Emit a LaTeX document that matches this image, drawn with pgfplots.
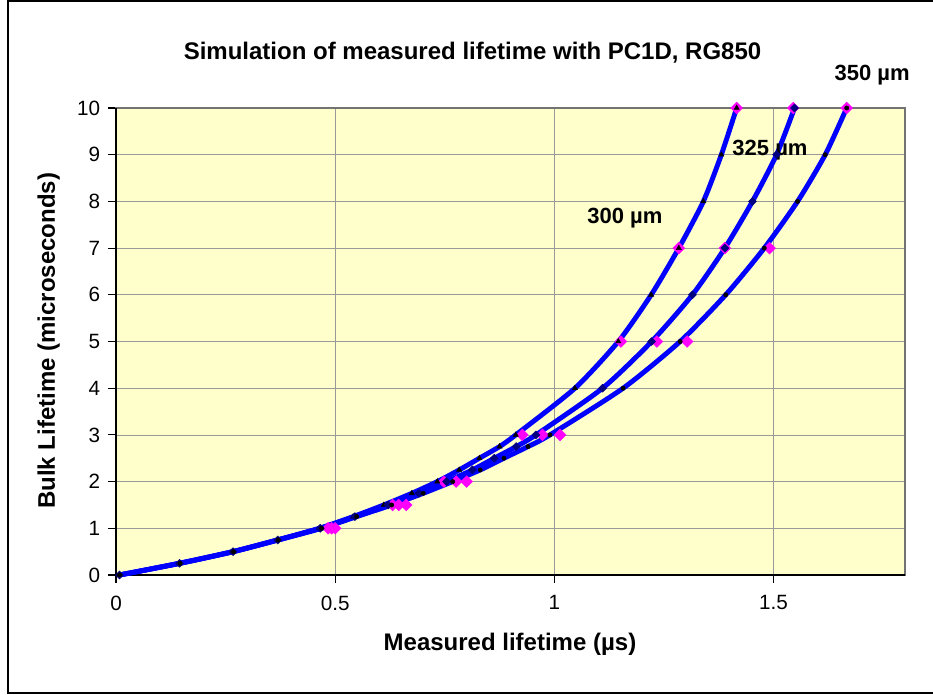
\documentclass[border=0pt]{standalone}
\usepackage{pgfplots}
\pgfplotsset{compat=1.18}
\usepackage{pgfplotstable}
\usepackage{fontspec}
\setmainfont{Liberation Sans}
\definecolor{bgyellow}{RGB}{255,255,204}
\definecolor{lineblue}{RGB}{0,0,255}
\definecolor{pinkm}{RGB}{255,0,255}
\definecolor{navym}{RGB}{0,0,128}

\pgfplotstableread{
b m300 m325 m350
0 0.008 0.008 0.008
0.25 0.144 0.145 0.146
0.5 0.266 0.267 0.268
0.75 0.368 0.369 0.370
1 0.464 0.466 0.469
1.25 0.541 0.545 0.549
1.5 0.611 0.621 0.629
1.75 0.675 0.691 0.701
2 0.733 0.754 0.768
2.25 0.783 0.813 0.831
2.5 0.829 0.863 0.885
2.75 0.875 0.913 0.940
3 0.912 0.958 0.990
4 1.047 1.110 1.157
5 1.146 1.222 1.287
6 1.221 1.315 1.391
7 1.284 1.389 1.479
8 1.340 1.452 1.555
9 1.381 1.507 1.618
10 1.416 1.548 1.667
}\simdata

\pgfplotstableread{
b p300 p325 p350
1 0.484 0.492 0.500
1.5 0.631 0.645 0.662
2 0.748 0.776 0.800
3 0.927 0.973 1.013
5 1.152 1.234 1.303
7 1.284 1.389 1.491
10 1.416 1.545 1.667
}\measdata

\begin{document}
\begin{tikzpicture}
\path[use as bounding box] (-87pt,-89.25pt) rectangle (612.75pt,431.25pt);
\draw[line width=0.9pt] (614pt,430.5pt) -- (-81pt,430.5pt) -- (-81pt,-88.5pt) -- (614pt,-88.5pt);
\begin{axis}[
  at={(0pt,0pt)}, anchor=south west,
  scale only axis, width=591.75pt, height=350.25pt,
  xmin=0, xmax=1.8, ymin=0, ymax=10,
  clip=false,
  axis background/.style={fill=bgyellow},
  grid=major, major grid style={draw=black!40, line width=0.6pt},
  axis line style={draw=black!55, line width=0.8pt},
  tick align=outside, major tick length=6pt,
  tick style={black, line width=0.8pt},
  xtick pos=bottom, ytick pos=left,
  xtick={0,0.5,1,1.5}, ytick={0,1,2,3,4,5,6,7,8,9,10},
  tick label style={font=\fontsize{15.5}{18}\selectfont},
  /pgf/number format/assume math mode=true,
  /pgf/number format/fixed,
  xticklabel style={yshift=-6pt},
  yticklabel style={xshift=-2.3pt},
]
\draw[black, line width=0.9pt] (rel axis cs:0,1) -- (rel axis cs:0,0) -- (rel axis cs:1,0);
\addplot[lineblue, line width=3.7pt, smooth, tension=0.4, no markers] table[x=m300,y=b]{\simdata};
\addplot[lineblue, line width=3.7pt, smooth, tension=0.4, no markers] table[x=m325,y=b]{\simdata};
\addplot[lineblue, line width=3.7pt, smooth, tension=0.4, no markers] table[x=m350,y=b]{\simdata};
\addplot[only marks, mark=square*, mark size=3.1pt, pinkm, mark options={draw=pinkm, fill=pinkm, rotate=45}] table[x=p300,y=b]{\measdata};
\addplot[only marks, mark=square*, mark size=3.1pt, pinkm, mark options={draw=pinkm, fill=pinkm, rotate=45}] table[x=p325,y=b]{\measdata};
\addplot[only marks, mark=square*, mark size=3.1pt, pinkm, mark options={draw=pinkm, fill=pinkm, rotate=45}] table[x=p350,y=b]{\measdata};
\addplot[only marks, mark=triangle*, mark size=2.2pt, black, mark options={fill=black}] table[x=m300,y=b]{\simdata};
\addplot[only marks, mark=square*, mark size=2.1pt, navym, mark options={fill=navym, rotate=45}] table[x=m325,y=b]{\simdata};
\addplot[only marks, mark=*, mark size=1.6pt, black, mark options={fill=black}] table[x=m350,y=b]{\simdata};
\node[font=\bfseries\fontsize{16.5}{18}\selectfont] at (axis cs:1.161,7.64) {300 µm};
\node[font=\bfseries\fontsize{16.5}{18}\selectfont] at (axis cs:1.492,9.10) {325 µm};
\node[font=\bfseries\fontsize{16.5}{18}\selectfont] at (axis cs:1.725,10.71) {350 µm};
\end{axis}
\node[anchor=base, font=\bfseries\fontsize{18}{21}\selectfont] at (267.4pt,387pt) {Simulation of measured lifetime with PC1D, RG850};
\node[anchor=base, font=\bfseries\fontsize{18}{21}\selectfont] at (295.5pt,-56.25pt) {Measured lifetime (µs)};
\node[anchor=base, rotate=90, font=\bfseries\fontsize{18}{21}\selectfont] at (-45.75pt,175.6pt) {Bulk Lifetime (microseconds)};
\end{tikzpicture}
\end{document}
